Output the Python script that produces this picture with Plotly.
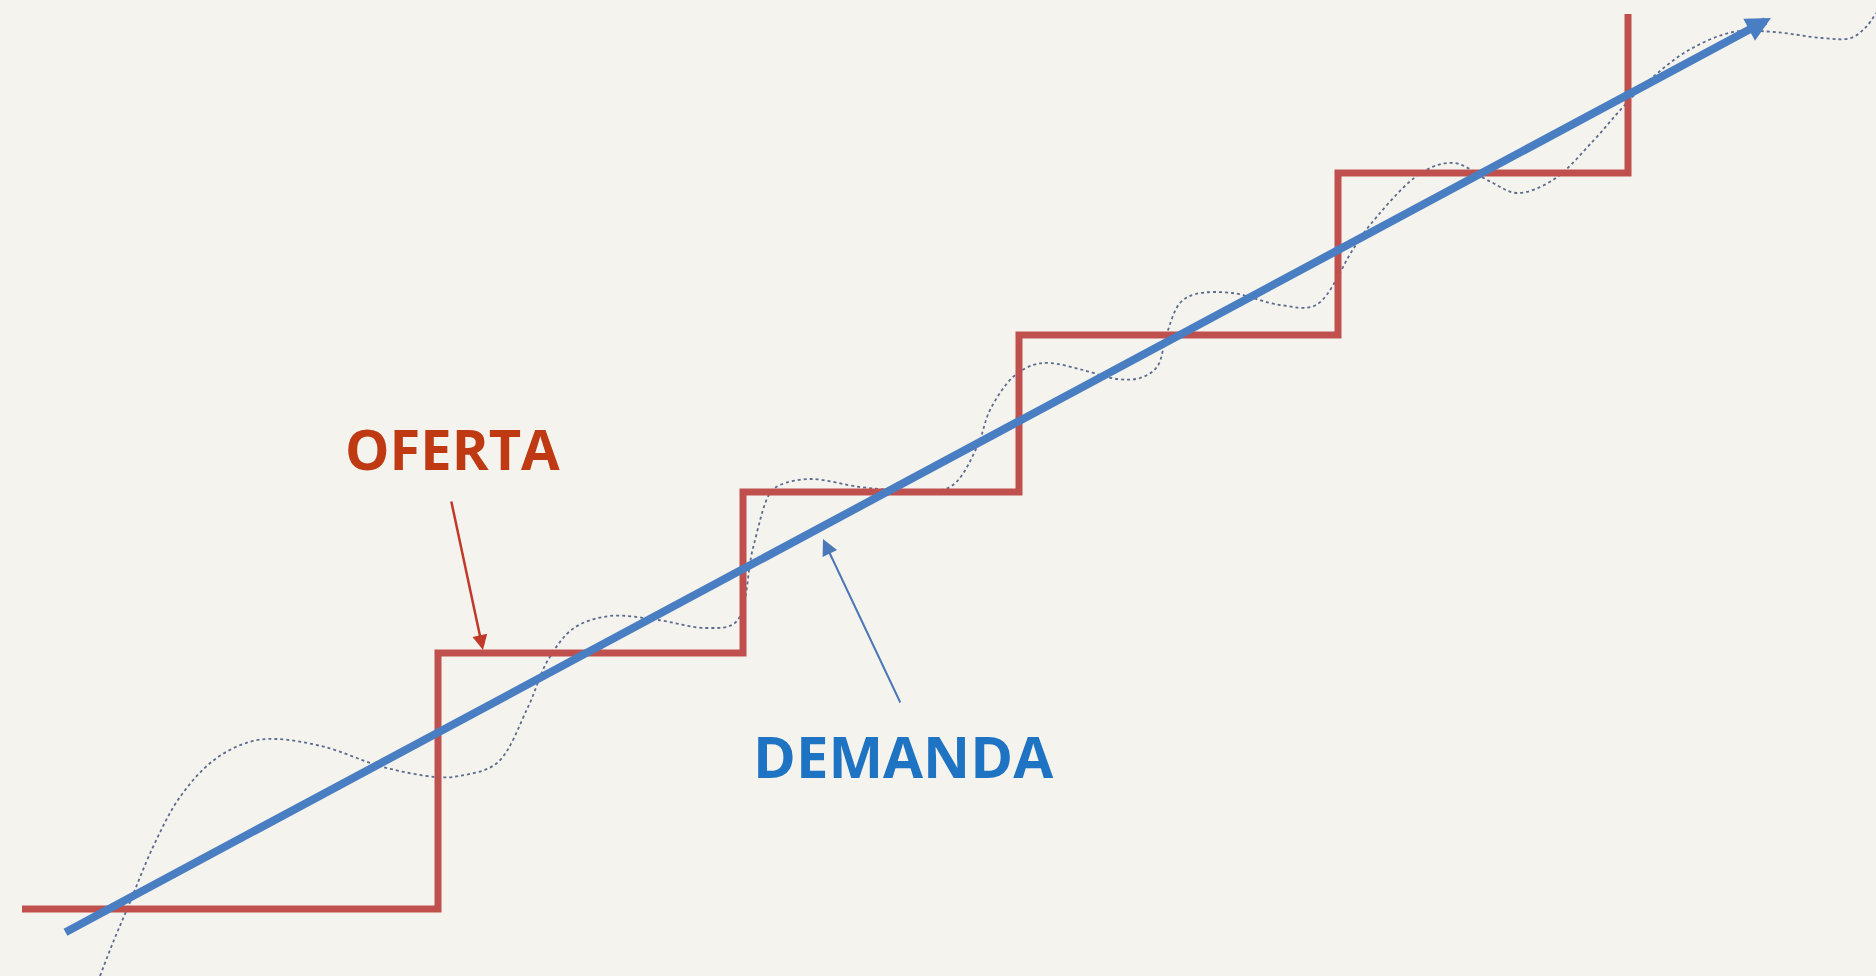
import plotly.graph_objects as go

# ---- data (diagram units: x = quantity, y = price) ----
supply_x = [22, 438, 743, 1019, 1338, 1628]
supply_y = [67, 323, 484, 641, 803, 962]

demand_trend_x = [64, 1771]
demand_trend_y = [43, 958]

demand_real_x = [100, 114, 128, 153, 180, 214, 249, 276, 325, 383,
                 436, 459, 497, 528, 548, 574, 610, 658, 706, 736,
                 753, 770, 780, 810, 860, 900, 950, 977, 990, 1013,
                 1033, 1050, 1083, 1117, 1140, 1157, 1167, 1180, 1196, 1232,
                 1280, 1316, 1352, 1366, 1421, 1454, 1491, 1517, 1553, 1594,
                 1623, 1653, 1689, 1733, 1774, 1822, 1851, 1866, 1876]
demand_real_y = [0, 36, 69, 129, 179, 216, 234, 237, 229, 209,
                 199, 200, 213, 269, 316, 348, 360, 356, 348, 354,
                 428, 483, 491, 497, 489, 486, 489, 529, 566, 599,
                 611, 613, 606, 597, 598, 609, 643, 673, 682, 683,
                 671, 671, 725, 746, 803, 813, 794, 783, 796, 836,
                 869, 899, 926, 944, 944, 938, 938, 949, 963]

labels = ["OFERTA", "DEMANDA"]
label_x = [452, 903]
label_y = [528, 221]
pointer_tail_x = [451, 901]
pointer_tail_y = [476, 272]
pointer_tip_x = [483, 823]
pointer_tip_y = [326, 437]

RED = "#C0504D"
BLUE = "#4A7EC2"
BG = "#F5F3EE"

fig = go.Figure()

# dotted "real" demand curve
fig.add_trace(go.Scatter(
    x=demand_real_x, y=demand_real_y, mode="lines",
    line=dict(color="#5B6C8F", width=1.8, dash="dot", shape="spline", smoothing=1.0),
    hoverinfo="skip", showlegend=False))

# supply staircase
fig.add_trace(go.Scatter(
    x=supply_x, y=supply_y, mode="lines",
    line=dict(color=RED, width=7, shape="hv"),
    hoverinfo="skip", showlegend=False))

# demand trend arrow
fig.add_annotation(
    x=demand_trend_x[1], y=demand_trend_y[1], ax=demand_trend_x[0], ay=demand_trend_y[0],
    xref="x", yref="y", axref="x", ayref="y", text="", showarrow=True,
    arrowhead=2, arrowsize=0.62, arrowwidth=8, arrowcolor=BLUE, standoff=0)

# labels and pointers
label_colors = ["#BF3A12", "#1E73C2"]
label_sizes = [56, 58]
pointer_colors = ["#C0392B", "#4A78B8"]
pointer_widths = [2.5, 2]
pointer_sizes = [1.2, 1.6]
for i, t in enumerate(labels):
    fig.add_annotation(
        x=label_x[i], y=label_y[i], xref="x", yref="y", text=t, showarrow=False,
        font=dict(family="Open Sans", size=label_sizes[i], color=label_colors[i], weight="bold"),
        xanchor="center", yanchor="middle")
    fig.add_annotation(
        x=pointer_tip_x[i], y=pointer_tip_y[i], ax=pointer_tail_x[i], ay=pointer_tail_y[i],
        xref="x", yref="y", axref="x", ayref="y", text="", showarrow=True,
        arrowhead=2, arrowsize=pointer_sizes[i], arrowwidth=pointer_widths[i],
        arrowcolor=pointer_colors[i], standoff=0)

fig.update_layout(
    width=1876, height=976, autosize=False,
    margin=dict(l=0, r=0, t=0, b=0, pad=0),
    paper_bgcolor=BG, plot_bgcolor=BG,
    xaxis=dict(range=[0, 1876], visible=False, fixedrange=True),
    yaxis=dict(range=[0, 976], visible=False, fixedrange=True),
    hovermode=False,
)

fig.write_html(
    "out.html",
    config={"displayModeBar": False},
    post_script="document.body.style.margin='0';document.body.style.overflow='hidden';"
                "document.body.style.background='" + BG + "';",
)
